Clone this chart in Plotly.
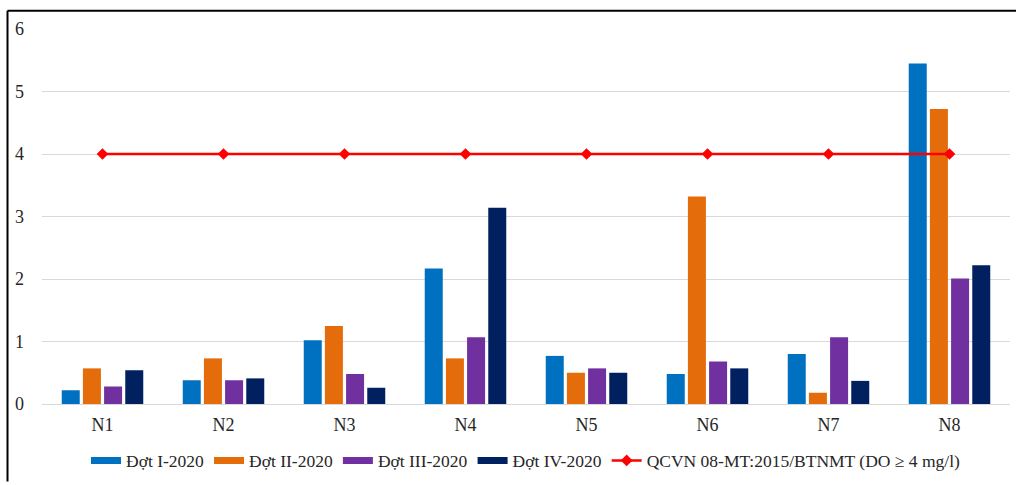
import plotly.graph_objects as go

categories = ["N1", "N2", "N3", "N4", "N5", "N6", "N7", "N8"]
dot1 = [0.22, 0.38, 1.02, 2.17, 0.77, 0.48, 0.80, 5.45]
dot2 = [0.57, 0.73, 1.25, 0.73, 0.50, 3.32, 0.18, 4.72]
dot3 = [0.28, 0.38, 0.48, 1.07, 0.57, 0.68, 1.07, 2.01]
dot4 = [0.54, 0.41, 0.26, 3.14, 0.50, 0.57, 0.37, 2.22]
qcvn = [4, 4, 4, 4, 4, 4, 4, 4]
series_names = ["Đợt I-2020", "Đợt II-2020", "Đợt III-2020", "Đợt IV-2020"]
qcvn_name = "QCVN 08-MT:2015/BTNMT (DO ≥ 4 mg/l)"
y_ticks = [0, 1, 2, 3, 4, 5, 6]

colors = ["#0070C0", "#E46C0A", "#7030A0", "#002060"]
FONT = "Liberation Serif"

fig = go.Figure()
for name, vals, c in zip(series_names, [dot1, dot2, dot3, dot4], colors):
    fig.add_trace(go.Bar(x=categories, y=vals, name=name, marker_color=c,
                         marker_line_width=0, showlegend=False))
# legend swatches (wide rectangles like the reference)
for name, c in zip(series_names, colors):
    fig.add_trace(go.Scatter(x=[None], y=[None], mode="lines", name=name,
                             line=dict(color=c, width=7), showlegend=True))
fig.add_trace(go.Scatter(x=categories, y=qcvn, name=qcvn_name, mode="lines+markers",
                         line=dict(color="#FF0000", width=2.5),
                         marker=dict(symbol="diamond", size=9, color="#FF0000")))

L, R, T, B = 42, 6, 29, 78
W, H = 1016, 485
pw, ph = W - L - R, H - T - B

def px(x):
    return (x - L) / pw

def py(y):
    return (H - B - y) / ph

fig.update_layout(
    width=W, height=H,
    margin=dict(l=L, r=R, t=T, b=B, pad=0),
    paper_bgcolor="white", plot_bgcolor="white",
    barmode="group", bargap=0.3, bargroupgap=0.15,
    font=dict(family=FONT, color="#262626", size=16),
    legend=dict(orientation="h", x=0.5, xanchor="center", y=py(464), yanchor="middle",
                font=dict(family=FONT, size=17.5, color="#262626"),
                itemwidth=30, tracegroupgap=0, bgcolor="rgba(0,0,0,0)"),
    xaxis=dict(showgrid=False, showline=False, ticks="", zeroline=False,
               tickfont=dict(family=FONT, size=18), ticklabelstandoff=8),
    yaxis=dict(range=[0, 6], tickvals=y_ticks, showgrid=True, gridcolor="#D9D9D9",
               gridwidth=1, zeroline=True, zerolinecolor="#D9D9D9", zerolinewidth=1,
               showline=False, ticks="", tickfont=dict(family=FONT, size=18),
               ticklabelstandoff=17),
    shapes=[
        dict(type="line", xref="paper", yref="paper", x0=px(7.5), x1=px(1016), y0=py(10.5), y1=py(10.5),
             line=dict(color="black", width=2)),
        dict(type="line", xref="paper", yref="paper", x0=px(7.5), x1=px(7.5), y0=py(10.5), y1=py(485),
             line=dict(color="black", width=2)),
    ],
)

fig.write_html("out.html")
